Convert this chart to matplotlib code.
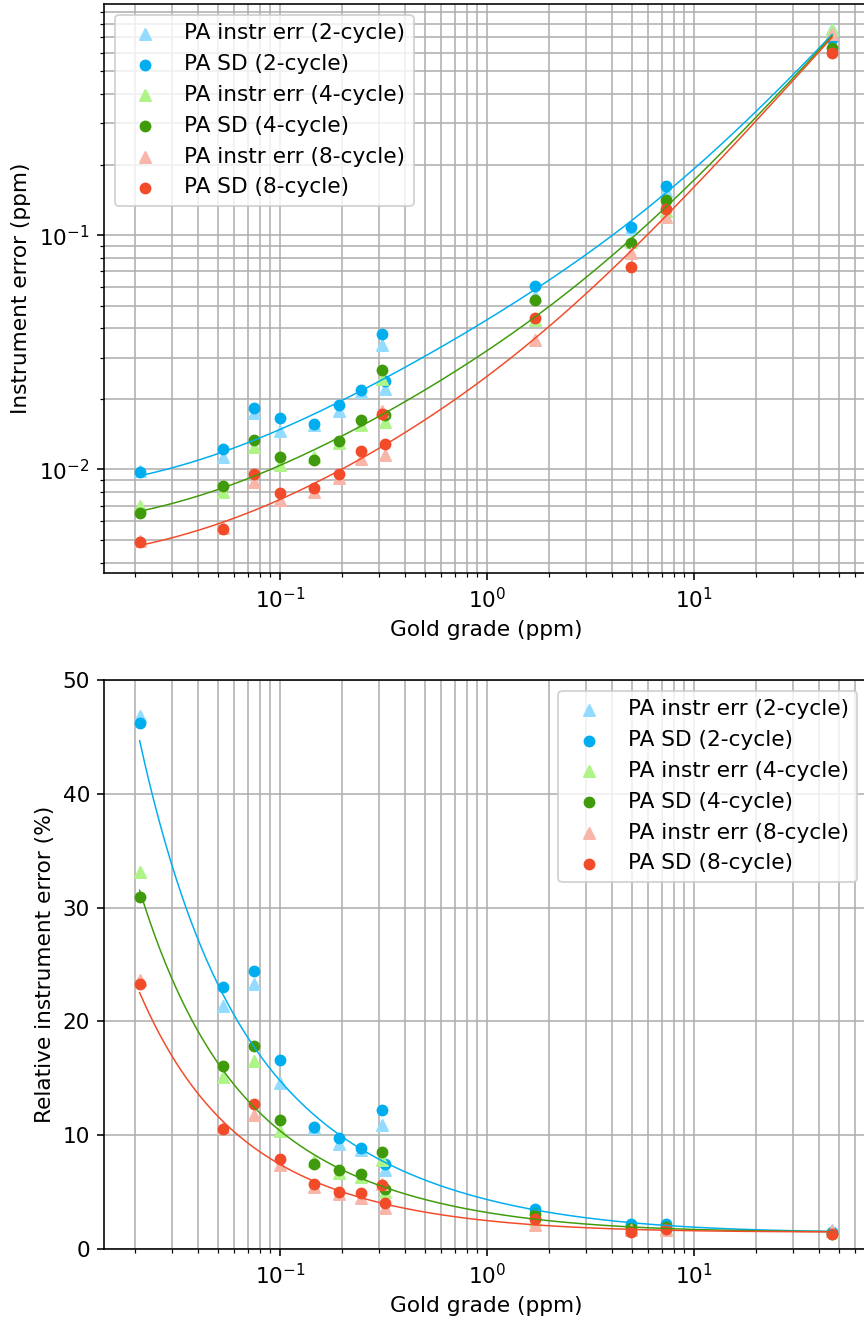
import numpy as np
import matplotlib
matplotlib.use("Agg")
import matplotlib.pyplot as plt

# ---- data ----
grade = [0.021, 0.053, 0.075, 0.100, 0.146, 0.192, 0.246, 0.310, 0.320, 1.71, 4.94, 7.30, 46.5]

instr_2 = [0.00983, 0.01134, 0.01748, 0.0146, 0.0155, 0.0177, 0.0214, 0.0338, 0.0221, 0.0548, 0.1067, 0.1545, 0.760]
sd_2    = [0.00970, 0.01219, 0.0183, 0.0166, 0.0156, 0.0188, 0.0219, 0.0380, 0.0238, 0.0608, 0.1088, 0.1618, 0.689]
instr_4 = [0.00695, 0.0080, 0.0124, 0.0104, 0.0113, 0.0129, 0.0155, 0.0242, 0.0160, 0.0433, 0.0931, 0.1265, 0.748]
sd_4    = [0.00649, 0.00853, 0.01335, 0.0113, 0.01095, 0.01325, 0.0162, 0.0265, 0.0170, 0.0527, 0.0925, 0.1410, 0.631]
instr_8 = [0.00496, 0.00562, 0.00885, 0.0074, 0.0080, 0.0092, 0.0111, 0.0178, 0.0115, 0.0356, 0.0838, 0.1193, 0.724]
sd_8    = [0.00489, 0.00557, 0.00953, 0.0079, 0.0083, 0.0096, 0.0120, 0.0173, 0.0128, 0.0444, 0.0729, 0.1297, 0.598]

# fitted error model: err^2 = A + B*x + C*x^2  (coefficients estimated from the drawn curves)
fit_A = [5.36e-5, 2.72e-5, 1.41e-5]
fit_B = [1.634e-3, 7.87e-4, 3.9e-4]
fit_C = [2.04e-4, 2.16e-4, 2.18e-4]

cycles = ["2-cycle", "4-cycle", "8-cycle"]
instr_sets = [instr_2, instr_4, instr_8]
sd_sets = [sd_2, sd_4, sd_8]
instr_colors = ["#94dcff", "#aef487", "#f8b6aa"]
sd_colors = ["#00aeef", "#3f9b0b", "#f24b2a"]

plt.rcParams["font.size"] = 10.8

fig = plt.figure(figsize=(6, 1320 / 144), dpi=144)
W, H = 864.0, 1320.0
ax1 = fig.add_axes([104 / W, 1 - 573 / H, (868 - 104) / W, (573 - 4) / H])
ax2 = fig.add_axes([104 / W, 1 - 1249 / H, (868 - 104) / W, (1249 - 680) / H])

g = np.array(grade)
xfit = np.geomspace(g.min(), g.max(), 400)

for i in range(3):
    ins = np.array(instr_sets[i])
    sd = np.array(sd_sets[i])
    model = np.sqrt(fit_A[i] + fit_B[i] * xfit + fit_C[i] * xfit ** 2)
    # absolute
    ax1.scatter(g, ins, marker="^", s=30, color=instr_colors[i],
                label=f"PA instr err ({cycles[i]})")
    ax1.scatter(g, sd, marker="o", s=24, color=sd_colors[i],
                label=f"PA SD ({cycles[i]})")
    ax1.plot(xfit, model, color=sd_colors[i], lw=0.75)
    # relative
    ax2.scatter(g, ins / g * 100, marker="^", s=30, color=instr_colors[i],
                label=f"PA instr err ({cycles[i]})")
    ax2.scatter(g, sd / g * 100, marker="o", s=24, color=sd_colors[i],
                label=f"PA SD ({cycles[i]})")
    ax2.plot(xfit, model / xfit * 100, color=sd_colors[i], lw=0.75)

for ax in (ax1, ax2):
    ax.set_xscale("log")
    ax.set_xlim(0.01413, 69.3)
    ax.grid(True, which="both")
    ax.set_axisbelow(True)
    ax.set_xlabel("Gold grade (ppm)")

ax1.set_yscale("log")
ax1.set_ylim(0.00361, 0.97)
ax1.set_ylabel("Instrument error (ppm)")
ax1.legend(loc="upper left")

ax2.set_ylim(0, 50)
ax2.set_ylabel("Relative instrument error (%)")
ax2.legend(loc="upper right")

fig.savefig("out.png", dpi=144)
